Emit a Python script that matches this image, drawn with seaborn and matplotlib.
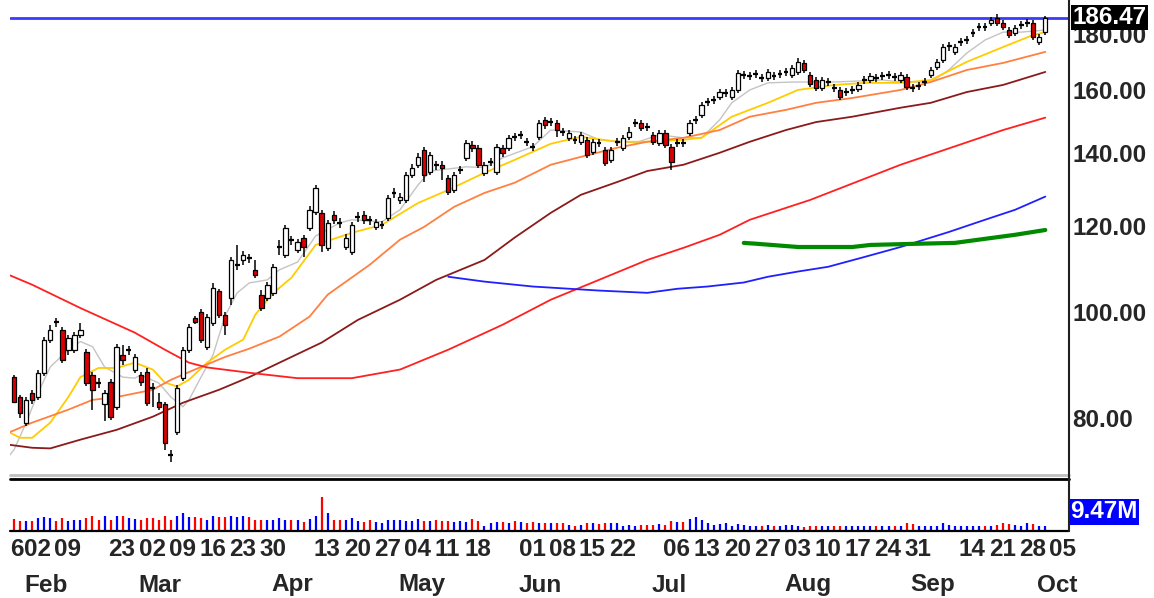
import numpy as np
import matplotlib
matplotlib.use('Agg')
import matplotlib.pyplot as plt
import seaborn as sns
from matplotlib.transforms import blended_transform_factory, offset_copy
from matplotlib.ticker import NullLocator

# trading days counted from Mon 26 Jan 2009 (= day 0), first candle on day 4
first_day = 4

opens = [87.2, 83.6, 79.2, 84.4, 83.6, 88.0, 94.4, 98.0, 96.4, 92.4, 92.4, 95.4, 92.0, 87.6, 86.3, 82.3,
         86.3, 81.9, 91.4, 92.3, 88.6, 87.6, 88.2, 85.4, 82.8, 82.3, 74.1, 77.7, 87.0, 92.4, 98.8, 100.1,
         93.0, 97.8, 104.5, 99.5, 103.1, 110.4, 111.7, 112.3, 109.4, 103.8, 103.1, 104.2, 114.6, 112.9, 116.8, 114.1,
         117.1, 119.5, 123.7, 123.4, 114.6, 122.9, 121.0, 114.8, 113.7, 122.2, 122.9, 121.8, 119.8, 120.1, 122.1, 128.5,
         126.8, 126.8, 133.7, 136.6, 141.0, 134.5, 136.8, 136.6, 132.8, 129.5, 134.9, 138.6, 142.5, 141.6, 134.3, 137.2,
         134.5, 141.6, 141.6, 145.1, 145.3, 143.6, 142.1, 144.9, 150.2, 149.3, 149.2, 146.6, 144.6, 144.2, 143.4, 144.0,
         140.4, 143.3, 141.0, 138.0, 143.2, 141.6, 144.9, 149.0, 149.2, 148.1, 145.5, 143.1, 146.1, 141.9, 142.9, 143.3,
         146.1, 150.0, 151.8, 155.8, 156.5, 157.6, 158.8, 157.6, 160.0, 165.0, 164.6, 165.2, 164.3, 164.1, 165.0, 165.2,
         166.0, 165.1, 166.2, 169.4, 165.1, 163.4, 160.7, 162.5, 160.9, 160.0, 159.1, 159.8, 160.3, 163.2, 163.4, 164.3,
         164.6, 164.9, 164.6, 163.4, 164.4, 160.9, 161.2, 162.5, 165.1, 168.0, 170.5, 175.5, 173.4, 176.9, 177.6, 180.2,
         182.6, 183.0, 184.3, 186.3, 184.3, 181.6, 180.4, 183.4, 184.1, 184.3, 177.1, 180.8]
highs = [87.6, 84.0, 83.6, 84.9, 88.6, 95.0, 97.4, 98.8, 97.0, 95.4, 96.0, 97.8, 92.6, 88.2, 87.0, 84.9,
         86.9, 93.6, 93.4, 93.2, 91.6, 88.2, 88.8, 86.2, 84.4, 82.8, 74.8, 85.8, 93.0, 97.6, 99.3, 100.7,
         99.7, 106.4, 105.1, 100.1, 112.4, 115.3, 113.9, 113.2, 111.7, 104.9, 106.7, 110.8, 116.6, 120.3, 117.5, 116.8,
         117.8, 125.2, 130.9, 124.2, 121.6, 123.9, 122.1, 118.0, 121.1, 123.7, 123.9, 122.6, 121.8, 121.3, 128.2, 130.1,
         128.7, 134.5, 136.8, 140.1, 141.9, 140.4, 137.7, 137.7, 133.7, 134.5, 136.3, 144.0, 143.7, 142.5, 137.4, 138.6,
         142.8, 142.5, 145.5, 146.1, 146.7, 144.6, 143.1, 150.2, 151.2, 150.8, 150.2, 147.6, 147.0, 145.2, 146.4, 144.9,
         144.3, 144.3, 141.9, 141.9, 144.6, 145.5, 147.9, 150.5, 150.2, 149.2, 146.4, 147.0, 147.0, 142.8, 144.3, 144.3,
         150.2, 151.5, 156.0, 157.3, 158.0, 160.3, 160.3, 161.0, 166.9, 166.5, 166.2, 166.9, 165.4, 167.2, 166.2, 166.9,
         167.6, 168.7, 171.2, 170.5, 166.2, 164.4, 164.4, 164.1, 162.0, 161.0, 160.7, 161.4, 162.7, 164.8, 165.8, 165.4,
         166.2, 166.5, 165.8, 166.2, 165.4, 162.0, 162.7, 164.1, 168.0, 170.8, 176.3, 177.1, 176.3, 178.6, 179.3, 182.0,
         184.3, 184.3, 186.7, 187.9, 185.5, 182.8, 183.6, 185.1, 185.9, 185.5, 180.1, 187.0]
lows = [82.5, 80.0, 78.7, 82.3, 83.1, 87.4, 93.8, 97.0, 89.9, 91.4, 91.8, 94.8, 85.6, 81.4, 85.3, 79.4,
        79.7, 81.4, 89.5, 91.4, 88.0, 85.6, 82.1, 81.9, 81.4, 74.8, 72.9, 77.1, 86.5, 91.8, 97.6, 93.8,
        92.4, 97.2, 98.8, 95.4, 101.6, 109.4, 110.6, 111.0, 107.6, 100.3, 102.5, 103.6, 112.9, 112.2, 115.3, 113.4,
        112.4, 118.8, 122.9, 113.7, 113.9, 120.6, 119.5, 114.1, 112.9, 121.1, 120.6, 120.3, 119.0, 119.3, 121.3, 127.3,
        125.8, 126.0, 132.8, 135.7, 131.7, 133.7, 135.1, 132.3, 128.2, 128.7, 134.0, 137.7, 140.4, 135.7, 133.4, 136.3,
        133.7, 138.9, 140.7, 143.7, 144.3, 142.2, 140.7, 144.0, 147.3, 148.3, 144.9, 145.2, 143.7, 142.8, 142.5, 138.6,
        139.5, 141.9, 136.3, 137.1, 142.2, 140.7, 144.0, 147.9, 146.7, 146.7, 142.5, 142.2, 141.6, 135.1, 141.9, 141.9,
        145.2, 148.9, 150.8, 154.7, 155.3, 156.7, 157.6, 156.7, 159.0, 163.7, 163.4, 164.1, 162.7, 163.1, 163.4, 164.1,
        164.8, 164.1, 165.1, 165.8, 161.0, 159.7, 159.7, 161.4, 159.3, 156.7, 158.0, 158.7, 159.3, 162.0, 162.4, 162.7,
        163.4, 163.7, 163.1, 162.4, 160.0, 159.3, 160.0, 161.4, 164.1, 166.9, 169.4, 173.7, 172.3, 175.6, 176.3, 178.9,
        181.2, 181.2, 183.2, 183.2, 181.6, 178.6, 179.3, 182.0, 182.8, 177.8, 176.0, 179.7]
closes = [82.8, 80.9, 83.1, 83.1, 88.0, 94.4, 96.4, 97.9, 90.5, 94.8, 95.4, 96.4, 86.2, 84.9, 86.2, 84.4,
          80.2, 93.0, 90.5, 92.4, 91.0, 86.3, 82.6, 85.3, 81.9, 75.9, 74.0, 85.3, 92.4, 97.0, 98.0, 94.4,
          99.1, 105.3, 99.5, 97.4, 111.7, 110.6, 112.9, 112.2, 108.3, 100.9, 106.0, 110.1, 114.8, 119.5, 116.6, 115.9,
          114.8, 124.2, 130.1, 115.3, 120.8, 121.6, 120.8, 117.1, 120.3, 122.4, 121.6, 121.6, 121.1, 120.3, 127.3, 128.7,
          127.6, 133.7, 135.7, 138.9, 133.7, 139.5, 136.6, 135.7, 129.0, 133.7, 135.1, 143.1, 141.6, 136.6, 136.6, 137.4,
          141.9, 140.1, 144.6, 144.9, 145.5, 143.4, 141.9, 149.2, 148.6, 149.5, 147.0, 146.4, 146.1, 144.0, 145.5, 139.5,
          143.4, 143.1, 137.1, 141.0, 143.4, 144.6, 146.4, 149.2, 147.6, 147.9, 143.4, 146.1, 142.5, 137.4, 143.1, 143.1,
          149.2, 150.2, 155.0, 156.0, 156.7, 159.3, 159.0, 160.0, 165.7, 165.1, 164.8, 165.4, 164.1, 166.2, 164.8, 165.4,
          166.2, 167.6, 169.8, 166.9, 162.0, 160.7, 163.4, 162.7, 160.7, 157.6, 159.3, 160.0, 161.7, 163.4, 164.8, 164.1,
          164.8, 165.1, 164.4, 165.1, 161.0, 160.7, 161.4, 162.7, 166.9, 169.8, 175.2, 176.0, 175.2, 177.1, 177.8, 180.4,
          182.8, 182.8, 185.5, 184.3, 182.8, 179.7, 182.4, 183.6, 184.3, 178.9, 178.9, 186.47]
volumes = [29.7, 23.4, 23.4, 25.2, 32.4, 36.0, 31.5, 23.4, 31.5, 25.2, 27.9, 27.9, 31.5, 38.7, 27.9, 38.7,
           27.9, 38.7, 38.7, 31.5, 29.7, 27.9, 31.5, 31.5, 27.9, 38.7, 27.9, 38.7, 45.9, 34.2, 34.2, 32.4,
           27.9, 38.7, 34.2, 34.2, 38.7, 34.2, 38.7, 34.2, 27.9, 27.9, 27.9, 27.9, 32.4, 27.9, 27.9, 27.9,
           20.7, 29.7, 38.7, 88.2, 45.0, 27.9, 27.9, 27.9, 31.5, 25.2, 20.7, 27.9, 20.7, 18.0, 27.9, 27.9,
           27.0, 25.2, 25.2, 29.7, 23.4, 25.2, 27.9, 25.2, 25.2, 20.7, 23.4, 20.7, 29.7, 23.4, 11.7, 18.0,
           20.7, 20.7, 18.0, 23.4, 20.7, 18.9, 22.5, 18.0, 18.0, 18.0, 18.0, 18.0, 13.5, 11.7, 13.5, 18.0,
           18.0, 16.2, 18.0, 18.0, 18.0, 11.7, 13.5, 11.7, 13.5, 13.5, 13.5, 16.2, 13.5, 23.4, 20.7, 20.7,
           29.7, 34.2, 27.9, 18.0, 13.5, 16.2, 18.0, 11.7, 16.2, 13.5, 11.7, 11.7, 11.7, 13.5, 11.7, 11.7,
           13.5, 13.5, 11.7, 7.2, 9.9, 9.9, 9.9, 11.7, 11.7, 11.7, 9.9, 9.9, 11.7, 11.7, 9.9, 9.9,
           11.7, 9.9, 11.7, 11.7, 18.0, 16.2, 11.7, 9.9, 9.9, 11.7, 18.9, 13.5, 11.7, 9.9, 11.7, 9.9,
           9.9, 9.9, 11.7, 13.5, 18.0, 16.2, 13.5, 11.7, 18.0, 16.2, 9.9, 9.47]

# moving averages (day, value)
gray_days = [3, 4, 6, 8, 10, 13, 15, 17, 19, 22, 24, 25, 28, 30, 32, 33, 35, 37, 39, 41, 43, 46, 48, 51, 54,
             58, 60, 65, 68, 71, 73, 79, 82, 85, 90, 93, 98, 101, 107, 111, 115, 118, 121, 123, 126, 129,
             133, 140, 148, 151, 156, 159, 162, 165, 168, 171, 175]
gray_vals = [73.6, 74.8, 79.2, 84.4, 89.1, 92.4, 94.0, 93.0, 89.1, 87.2, 87.0, 87.6, 86.1, 83.6, 81.9, 83.1,
             87.2, 91.4, 99.3, 104.2, 106.4, 107.1, 109.4, 111.2, 117.5, 120.8, 121.6, 121.1, 124.2, 130.9,
             134.8, 136.0, 135.8, 138.6, 141.9, 147.0, 146.4, 144.0, 143.1, 145.5, 144.6, 144.6, 150.2, 155.7,
             160.0, 162.4, 162.7, 162.7, 163.4, 162.7, 162.7, 166.9, 173.0, 177.8, 180.8, 180.8, 181.6]
yellow_days = [3, 5, 7, 10, 13, 15, 18, 21, 24, 27, 29, 31, 33, 36, 39, 42, 44, 47, 50, 54, 60, 65, 71, 76,
               82, 87, 93, 98, 104, 109, 115, 118, 123, 129, 134, 140, 145, 151, 156, 162, 168, 173, 175]
yellow_vals = [77.7, 76.7, 76.7, 79.2, 83.6, 87.2, 88.9, 88.9, 89.9, 88.6, 86.2, 85.5, 86.7, 89.9, 92.4, 94.4,
               99.5, 104.2, 107.6, 115.3, 118.3, 120.3, 126.0, 129.5, 134.3, 138.0, 142.8, 144.9, 143.4, 143.4,
               144.0, 144.6, 151.2, 155.7, 160.0, 161.7, 162.4, 162.4, 163.4, 169.8, 175.2, 179.7, 180.8]
orange_days = [3, 7, 13, 17, 21, 27, 30, 35, 39, 43, 48, 53, 56, 63, 68, 72, 77, 82, 87, 93, 98, 104, 109,
               115, 121, 126, 132, 137, 143, 151, 156, 162, 168, 175]
orange_vals = [77.5, 79.2, 81.4, 83.1, 83.6, 84.9, 86.7, 89.1, 91.0, 92.6, 95.0, 99.1, 103.8, 110.6, 116.6,
               119.8, 125.0, 128.7, 131.5, 136.6, 138.9, 141.6, 143.4, 144.6, 147.0, 151.2, 153.4, 155.7, 157.3,
               160.0, 162.7, 166.9, 169.4, 173.4]
brown_days = [3, 7, 10, 15, 21, 27, 32, 38, 43, 48, 55, 61, 68, 74, 82, 87, 93, 98, 104, 109, 115, 121, 126,
              132, 137, 143, 151, 156, 162, 168, 175]
brown_vals = [75.6, 75.1, 75.0, 76.4, 78.0, 80.2, 82.6, 84.9, 87.2, 89.9, 93.8, 98.4, 102.7, 107.1, 111.7,
              117.1, 123.4, 128.2, 131.7, 134.8, 136.6, 140.1, 143.4, 147.0, 149.5, 151.2, 154.1, 155.7, 159.3,
              161.7, 166.2]
red_days = [3, 7, 15, 24, 29, 33, 36, 43, 51, 60, 68, 76, 85, 93, 101, 109, 115, 121, 126, 132, 136, 151, 168, 175]
red_vals = [108.3, 106.0, 100.9, 95.8, 92.4, 89.9, 89.0, 88.0, 87.0, 87.0, 88.6, 92.4, 97.4, 102.7, 107.1,
            111.7, 114.6, 117.8, 121.6, 124.7, 126.8, 136.6, 147.0, 150.9]
blue_days = [76, 82, 90, 101, 109, 114, 119, 125, 129, 134, 139, 145, 151, 159, 165, 170, 175]
blue_vals = [107.8, 106.7, 105.6, 104.7, 104.2, 105.1, 105.6, 106.5, 107.8, 109.0, 110.1, 112.4, 114.8,
             118.5, 121.6, 124.2, 127.7]
green_days = [125, 127, 134, 143, 146, 154, 160, 165, 170, 175]
green_vals = [115.8, 115.6, 114.8, 114.8, 115.3, 115.6, 115.8, 116.8, 117.8, 119.0]

last_price = 186.47
last_volume = '9.47M'

price_ticks = [80, 100, 120, 140, 160, 180]
# the first week label is cut at the left edge, only its last digit shows
week_days = [0, 5, 10, 19, 24, 29, 34, 39, 44, 53, 58, 63, 68, 73, 78, 87, 92, 97, 102, 111, 116, 121, 126,
             131, 136, 141, 146, 151, 160, 165, 170, 175]
week_text = ['6', '02', '09', '23', '02', '09', '16', '23', '30', '13', '20', '27', '04', '11', '18', '01',
             '08', '15', '22', '06', '13', '20', '27', '03', '10', '17', '24', '31', '14', '21', '28', '05']
month_days = [5, 24, 46, 67, 87, 109, 131, 152, 173]
month_text = ['Feb', 'Mar', 'Apr', 'May', 'Jun', 'Jul', 'Aug', 'Sep', 'Oct']

sns.set_style('white')
plt.rcParams['font.family'] = ['Liberation Sans', 'DejaVu Sans']

W, H = 1154, 598
fig = plt.figure(figsize=(W / 100, H / 100), dpi=100)
ax = fig.add_axes([10 / W, 1 - 477 / H, 1059 / W, 477 / H])
axv = fig.add_axes([10 / W, 1 - 530 / H, 1059 / W, 50 / H])

o = np.array(opens); h = np.array(highs); l = np.array(lows); c = np.array(closes)
days = np.arange(first_day, first_day + len(c))
up = c >= o
doji = np.abs(c - o) < 0.3

ax.set_yscale('log')

# moving averages
ma = [(gray_days, gray_vals, '#c4c4c4', 1.0), (yellow_days, yellow_vals, '#ffcc00', 1.3),
      (orange_days, orange_vals, '#ff8040', 1.3), (brown_days, brown_vals, '#8b1a1a', 1.3),
      (red_days, red_vals, '#ff2020', 1.3), (blue_days, blue_vals, '#2020ff', 1.3),
      (green_days, green_vals, '#008a00', 3.0)]
for d, v, col, lw in ma:
    sns.lineplot(x=d, y=v, ax=ax, color=col, lw=lw, estimator=None, zorder=2)

ax.axhline(last_price, color='#3a3aff', lw=2, zorder=2)

# candles
ax.vlines(days, l, h, color='black', lw=1.1, zorder=3)
body = ~doji
ax.bar(days[body], np.abs(c - o)[body], bottom=np.minimum(o, c)[body], width=0.72,
       color=np.where(up, 'white', '#dd0000')[body], edgecolor='black', linewidth=0.9, zorder=4)
ax.hlines(c[doji], days[doji] - 0.4, days[doji] + 0.4, color='black', lw=1.6, zorder=4)

xlim = (3.32, 178.93)
ax.set_xlim(xlim)
ax.set_ylim(70.6, 193.5)
ax.set_xticks([])
ax.yaxis.tick_right()
ax.set_yticks(price_ticks)
ax.set_yticklabels([f'{p:.2f}' for p in price_ticks])
ax.yaxis.set_minor_locator(NullLocator())
ax.tick_params(axis='y', length=0, pad=2.2, labelsize=17.5)
for t in ax.get_yticklabels():
    t.set_fontweight('bold')
for s in ax.spines.values():
    s.set_visible(False)

ax.text(1.0 + 3 / 1059, last_price, f'{last_price:.2f}', transform=blended_transform_factory(ax.transAxes, ax.transData),
        ha='left', va='center', color='white', fontsize=17.5, fontweight='bold', clip_on=False, zorder=10,
        bbox=dict(boxstyle='square,pad=0.06', fc='black', ec='none'))

# volume
vcol = np.where(up, '#0000ff', '#ff0000')
axv.vlines(days, 0, volumes, colors=vcol, lw=1.6)
axv.set_xlim(xlim)
axv.set_ylim(0, 135)
axv.set_xticks([]); axv.set_yticks([])
for s in axv.spines.values():
    s.set_visible(False)
axv.text(1.0 + 1 / 1059, 0.36, last_volume, transform=axv.transAxes, ha='left', va='center', color='white',
         fontsize=17.5, fontweight='bold', clip_on=False,
         bbox=dict(boxstyle='square,pad=0.06', fc='#0000ff', ec='none'))

# frame lines
def fline(x0, y0, x1, y1, **kw):
    fig.add_artist(plt.Line2D([x0 / W, x1 / W], [1 - y0 / H, 1 - y1 / H], transform=fig.transFigure, **kw))

fline(10, 474.5, 1069, 474.5, color='#c0c0c0', lw=2.0)
fline(10, 478.5, 1069, 478.5, color='black', lw=2.0)
fline(10, 530.5, 1069, 530.5, color='black', lw=1.6)
fline(1069, 0, 1069, 531, color='#202020', lw=1.5)

# date labels below the volume panel
base = blended_transform_factory(ax.transData, fig.transFigure)
tr = offset_copy(base, fig=fig, x=4, units='dots')
tr_first = offset_copy(base, fig=fig, x=20, units='dots')
for k, (d, s) in enumerate(zip(week_days, week_text)):
    fig.text(d, 1 - 550 / H, s, transform=tr_first if k == 0 else tr, ha='left', va='center',
             fontsize=17.5, fontweight='bold')
for d, s in zip(month_days, month_text):
    fig.text(d, 1 - 585 / H, s, transform=tr, ha='left', va='center', fontsize=17.5, fontweight='bold')

fig.savefig('out.png', dpi=100, facecolor='white')
